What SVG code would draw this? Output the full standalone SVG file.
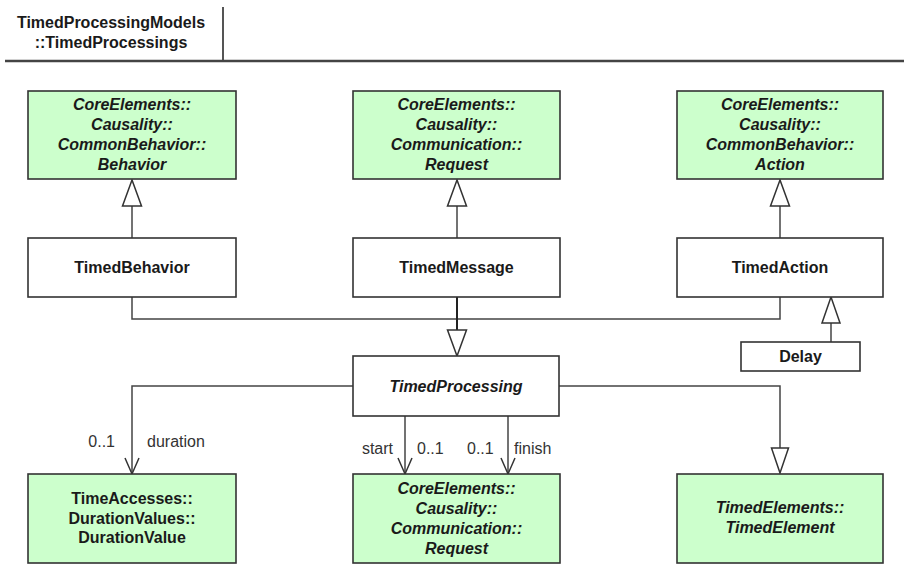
<svg xmlns="http://www.w3.org/2000/svg" width="904" height="574" viewBox="0 0 904 574">
<style>
.box{fill:#ffffff;stroke:#333;stroke-width:1.6}
.ext{fill:#ccffcc;stroke:#333;stroke-width:1.6}
.t{font-family:"Liberation Sans",Arial,sans-serif;font-size:16px;font-weight:bold;fill:#1a1a1a;text-anchor:middle}
.i{font-style:italic}
.lbl{font-family:"Liberation Sans",Arial,sans-serif;font-size:16px;fill:#333}
.ln{fill:none;stroke:#444;stroke-width:1.5}
.tri{fill:#ffffff;stroke:#333;stroke-width:1.5;stroke-linejoin:miter}
.arr{fill:none;stroke:#333;stroke-width:1.5}
</style>
<rect width="904" height="574" fill="#ffffff"/>
<g id="header">
<text class="t" x="111" y="28" font-size="16.5">TimedProcessingModels</text>
<text class="t" x="111" y="48" font-size="16.5">::TimedProcessings</text>
<line x1="223" y1="7" x2="223" y2="61" stroke="#555" stroke-width="2"/>
<line x1="5" y1="61" x2="904" y2="61" stroke="#444" stroke-width="2.5"/>
</g>
<g id="connectors">
<line class="ln" x1="132" y1="238" x2="132" y2="206"/>
<polygon class="tri" points="132,180 122.5,206 141.5,206"/>
<line class="ln" x1="457" y1="238" x2="457" y2="206"/>
<polygon class="tri" points="457,180 447.5,206 466.5,206"/>
<line class="ln" x1="780" y1="238" x2="780" y2="206"/>
<polygon class="tri" points="780,180 770.5,206 789.5,206"/>
<polyline class="ln" points="132,297 132,319 780,319 780,297"/>
<line x1="457" y1="297" x2="457" y2="330" stroke="#222" stroke-width="2"/>
<polygon class="tri" points="457,356 447.5,330 466.5,330" stroke-width="2"/>
<line class="ln" x1="831" y1="342" x2="831" y2="323"/>
<polygon class="tri" points="831,297 822,323 840,323"/>
<polyline class="ln" points="353,386 132,386 132,474"/>
<polyline class="arr" points="125,458 132,474 139,458"/>
<line class="ln" x1="405" y1="416" x2="405" y2="474"/>
<polyline class="arr" points="398,458 405,474 412,458"/>
<line class="ln" x1="508" y1="416" x2="508" y2="474"/>
<polyline class="arr" points="501,458 508,474 515,458"/>
<polyline class="ln" points="559,386 780,386 780,448"/>
<polygon class="tri" points="780,473 771.5,448 788.5,448"/>
<text class="lbl" x="115" y="447" text-anchor="end">0..1</text>
<text class="lbl" x="147" y="447">duration</text>
<text class="lbl" x="393" y="454" text-anchor="end">start</text>
<text class="lbl" x="417" y="454">0..1</text>
<text class="lbl" x="467" y="454">0..1</text>
<text class="lbl" x="514" y="454">finish</text>
</g>
<g id="behavior">
<rect class="ext" x="28" y="91" width="208" height="88"/>
<text class="t i" x="132" y="110">CoreElements::</text>
<text class="t i" x="132" y="130">Causality::</text>
<text class="t i" x="132" y="150">CommonBehavior::</text>
<text class="t i" x="132" y="170">Behavior</text>
</g>
<g id="request-top">
<rect class="ext" x="353" y="91" width="207" height="88"/>
<text class="t i" x="456.5" y="110">CoreElements::</text>
<text class="t i" x="456.5" y="130">Causality::</text>
<text class="t i" x="456.5" y="150">Communication::</text>
<text class="t i" x="456.5" y="170">Request</text>
</g>
<g id="action">
<rect class="ext" x="677" y="91" width="206" height="88"/>
<text class="t i" x="780" y="110">CoreElements::</text>
<text class="t i" x="780" y="130">Causality::</text>
<text class="t i" x="780" y="150">CommonBehavior::</text>
<text class="t i" x="780" y="170">Action</text>
</g>
<g id="timedbehavior">
<rect class="box" x="28" y="238" width="208" height="59"/>
<text class="t" x="132" y="273">TimedBehavior</text>
</g>
<g id="timedmessage">
<rect class="box" x="353" y="238" width="207" height="59"/>
<text class="t" x="456.5" y="273">TimedMessage</text>
</g>
<g id="timedaction">
<rect class="box" x="677" y="238" width="206" height="59"/>
<text class="t" x="780" y="273">TimedAction</text>
</g>
<g id="delay">
<rect class="box" x="741" y="342" width="119" height="29"/>
<text class="t" x="800.5" y="362">Delay</text>
</g>
<g id="timedprocessing">
<rect class="box" x="353" y="356" width="206" height="60"/>
<text class="t i" x="456" y="391.5">TimedProcessing</text>
</g>
<g id="durationvalue">
<rect class="ext" x="28" y="474" width="208" height="89"/>
<text class="t" x="132" y="504">TimeAccesses::</text>
<text class="t" x="132" y="524">DurationValues::</text>
<text class="t" x="132" y="543">DurationValue</text>
</g>
<g id="request-bottom">
<rect class="ext" x="353" y="474" width="207" height="89"/>
<text class="t i" x="456.5" y="494">CoreElements::</text>
<text class="t i" x="456.5" y="514">Causality::</text>
<text class="t i" x="456.5" y="534">Communication::</text>
<text class="t i" x="456.5" y="554">Request</text>
</g>
<g id="timedelement">
<rect class="ext" x="677" y="474" width="206" height="89"/>
<text class="t i" x="780" y="513">TimedElements::</text>
<text class="t i" x="780" y="533">TimedElement</text>
</g>
</svg>
